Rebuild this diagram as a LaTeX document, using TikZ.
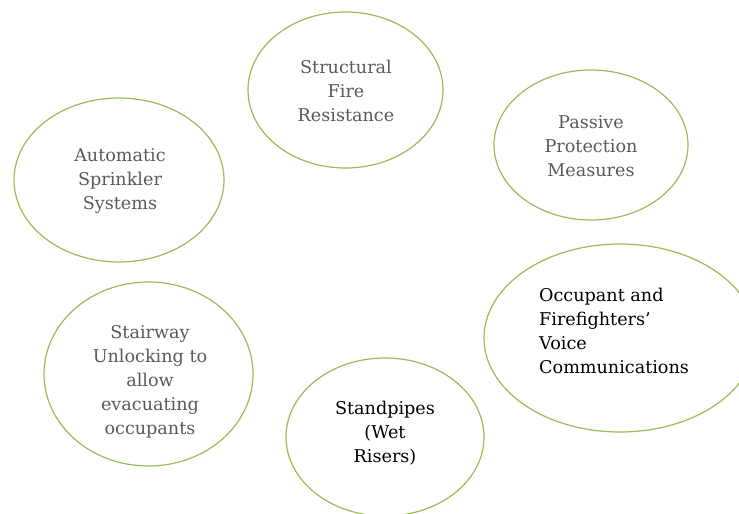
\documentclass[tikz,border=0pt]{standalone}
\usepackage{fontspec}
\setmainfont{DejaVu Serif}
\usetikzlibrary{shapes.geometric}
\definecolor{leafgreen}{HTML}{9BBB59}
\definecolor{inkgray}{HTML}{595959}

\begin{document}
\begin{tikzpicture}[x=1pt, y=-1pt,
    bubble/.style={draw=leafgreen, line width=1.2pt, ellipse, inner sep=0pt},
    words/.style={align=center, text=inkgray, font=\fontsize{17.6}{24}\selectfont}]

            \useasboundingbox (0,0) rectangle (739,514);
            \clip (0,0) rectangle (739,514);

            \node[bubble, minimum width=195, minimum height=156] (structural) at (345.5,90) {};
            \node[bubble, minimum width=194, minimum height=150] (passive) at (591,145) {};
            \node[bubble, minimum width=210, minimum height=164] (sprinkler) at (119,180) {};
            \node[bubble, minimum width=272, minimum height=188] (voice) at (620,338) {};
            \node[bubble, minimum width=209, minimum height=184] (stairway) at (148.5,374) {};
            \node[bubble, minimum width=198, minimum height=158] (standpipe) at (385,437) {};

            \node[words] (structuralT) at (346,91) {Structural\\Fire\\Resistance};
            \node[words] (passiveT) at (591,146) {Passive\\Protection\\Measures};
            \node[words] (sprinklerT) at (120,181) {Automatic\\Sprinkler\\Systems};
            \node[words, align=left, text=black, anchor=west, inner sep=0pt] (voiceT) at (539,331) {Occupant and\\Firefighters’\\Voice\\Communications};
            \node[words] (stairwayT) at (150,382) {Stairway\\Unlocking to\\allow\\evacuating\\occupants};
            \node[words, text=black] (standpipeT) at (385,433) {Standpipes\\(Wet\\Risers)};
            \end{tikzpicture}
\end{document}
